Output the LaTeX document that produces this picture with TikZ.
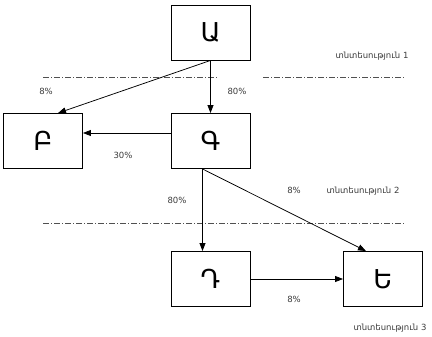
\documentclass[tikz,border=0pt]{standalone}
\usepackage{fontspec}
\setmainfont{DejaVu Sans}
\usetikzlibrary{positioning, arrows.meta}
\definecolor{labelgray}{RGB}{60,60,60}
\definecolor{sepgray}{RGB}{80,80,80}

\begin{document}
\begin{tikzpicture}[x=1pt, y=-1pt,
  box/.style={draw, line width=0.9pt, minimum width=79pt, minimum height=55pt, inner sep=0pt, font=\fontsize{26}{28}\selectfont},
  flow/.style={line width=0.75pt, -{Triangle[length=8pt, width=6pt]}},
  pct/.style={font=\fontsize{8.5}{10}\selectfont, color=labelgray},
  sector/.style={font=\fontsize{8.5}{10}\selectfont, color=labelgray},
  sep/.style={line width=0.75pt, color=sepgray, dash pattern=on 6pt off 2pt on 1pt off 2pt},
]
  \useasboundingbox (0,0) rectangle (432,337);

  % boxes
  \node[box] (A) at (210.5, 32.5) {Ա};
  \node[box] (B) at (43, 141) {Բ};
  \node[box] (G) at (210.5, 141) {Գ};
  \node[box] (D) at (210.5, 279) {Դ};
  \node[box] (E) at (383, 279) {Ե};

  % separators
  \coordinate (s1a) at (43, 77);
  \coordinate (s1b) at (218, 77);
  \coordinate (s1c) at (263, 77);
  \coordinate (s1d) at (405, 77);
  \coordinate (s2a) at (43, 223);
  \coordinate (s2b) at (405, 223);
  \draw[sep] (s1a) -- (s1b);
  \draw[sep] (s1c) -- (s1d);
  \draw[sep] (s2a) -- (s2b);

  % flows
  \draw[flow] (A.south) -- ([xshift=15pt]B.north);
  \draw[flow] (A.south) -- (G.north);
  \draw[flow] ([yshift=8pt]G.west) -- ([yshift=8pt]B.east);
  \draw[flow] ([xshift=-8pt]G.south) -- ([xshift=-8pt]D.north);
  \draw[flow] ([xshift=-8pt]G.south) -- ([xshift=-17pt]E.north);
  \draw[flow] (D.east) -- (E.west);

  % shares
  \node[pct] (p1) at (46, 91) {8\%};
  \node[pct] (p2) at (237, 91) {80\%};
  \node[pct] (p3) at (123, 155) {30\%};
  \node[pct] (p4) at (177, 200) {80\%};
  \node[pct] (p5) at (294, 190) {8\%};
  \node[pct] (p6) at (294, 299) {8\%};

  % sectors
  \node[sector] (e1) at (372, 56) {տնտեսություն 1};
  \node[sector] (e2) at (363, 191) {տնտեսություն 2};
  \node[sector] (e3) at (390, 328) {տնտեսություն 3};
\end{tikzpicture}
\end{document}
